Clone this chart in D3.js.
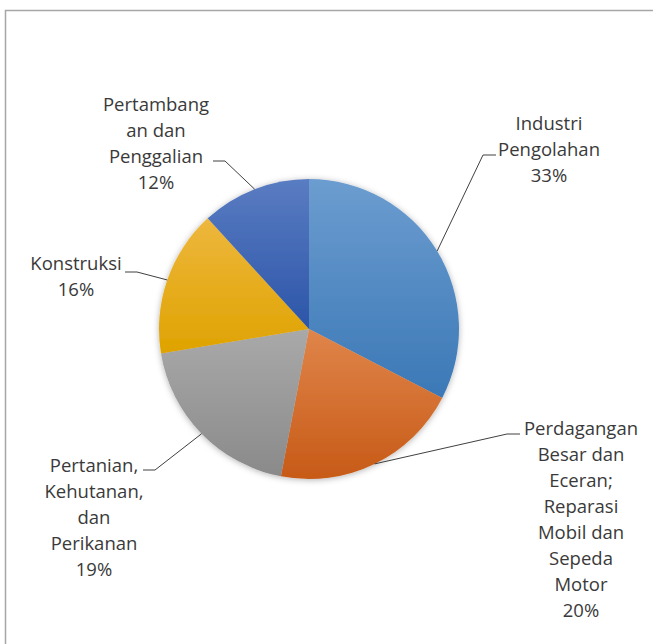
<!DOCTYPE html>
<html>
<head>
<meta charset="utf-8">
<script src="https://cdn.jsdelivr.net/npm/d3@7"></script>
<style>
  body { margin: 0; background: #fff; }
  text { font-family: "Open Sans", Lato, sans-serif; fill: #3a3a3a; }
</style>
</head>
<body>
<div id="chart"></div>
<script>
(function() {
    var width = 653,
        height = 644;

    // data
    var sectors = ["Industri Pengolahan", "Perdagangan Besar dan Eceran; Reparasi Mobil dan Sepeda Motor",
        "Pertanian, Kehutanan, dan Perikanan", "Konstruksi", "Pertambangan dan Penggalian"];
    var shares = [32.6, 20.4, 19.4, 15.8, 11.8];
    // label lines as wrapped in the original
    var labelLines = [
        ["Industri", "Pengolahan"],
        ["Perdagangan", "Besar dan", "Eceran;", "Reparasi", "Mobil dan", "Sepeda", "Motor"],
        ["Pertanian,", "Kehutanan,", "dan", "Perikanan"],
        ["Konstruksi"],
        ["Pertambang", "an dan", "Penggalian"]
    ];

    // colours: [top, bottom] of each slice gradient
    var colors = [
        ["#6c9dd0", "#3b78b6"],
        ["#e0854a", "#c75a17"],
        ["#a9a9a9", "#8a8a8a"],
        ["#eeb73e", "#dfa300"],
        ["#5a7cc2", "#2c55a8"]
    ];

    // label layout: text centre x, first line y, leader attach point, side of elbow
    var labelLayout = [
        { x: 549, y: 130, ax: 496, ay: 155, dir: -1 },
        { x: 581, y: 435, ax: 520, ay: 434, dir: -1 },
        { x: 94, y: 472, ax: 143, ay: 470, dir: 1 },
        { x: 76, y: 270, ax: 125, ay: 272, dir: 1 },
        { x: 156, y: 111, ax: 213, ay: 161, dir: 1 }
    ];

    var cx = 309, cy = 329, radius = 150;
    var lineH = 26;

    var svg = d3.select("#chart")
        .append("svg")
        .attr("width", width)
        .attr("height", height);

    // chart border (runs off the right / bottom of the picture)
    svg.append("rect")
        .attr("x", 5.5)
        .attr("y", 10.5)
        .attr("width", 800)
        .attr("height", 800)
        .style("fill", "none")
        .style("stroke", "#a6a6a6")
        .style("stroke-width", 1.5);

    var defs = svg.append("defs");

    var shadow = defs.append("filter")
        .attr("id", "shadow")
        .attr("x", "-20%").attr("y", "-20%")
        .attr("width", "140%").attr("height", "140%");
    shadow.append("feDropShadow")
        .attr("dx", 0).attr("dy", 1)
        .attr("stdDeviation", 3)
        .attr("flood-color", "#000")
        .attr("flood-opacity", 0.3);

    colors.forEach(function(c, i) {
        var g = defs.append("linearGradient")
            .attr("id", "grad" + i)
            .attr("x1", 0).attr("y1", 0)
            .attr("x2", 0).attr("y2", 1);
        g.append("stop").attr("offset", "0%").attr("stop-color", c[0]);
        g.append("stop").attr("offset", "100%").attr("stop-color", c[1]);
    });

    var pie = d3.pie().sort(null).value(function(d) { return d; });
    var arcs = pie(shares);

    var arc = d3.arc().innerRadius(0).outerRadius(radius);

    var g = svg.append("g")
        .attr("transform", "translate(" + cx + "," + cy + ")");

    g.append("g")
        .attr("filter", "url(#shadow)")
        .selectAll("path")
        .data(arcs)
        .enter()
        .append("path")
        .attr("d", arc)
        .style("fill", function(d, i) { return "url(#grad" + i + ")"; });

    // leader lines: slice edge at mid angle -> elbow -> label
    arcs.forEach(function(d, i) {
        var mid = (d.startAngle + d.endAngle) / 2;
        var px = cx + radius * Math.sin(mid),
            py = cy - radius * Math.cos(mid);
        var L = labelLayout[i];
        var ex = L.ax + (L.dir === -1 ? -13 : 12);
        svg.append("polyline")
            .attr("points", [[px, py], [ex, L.ay], [L.ax, L.ay]].map(function(p) { return p.join(","); }).join(" "))
            .style("fill", "none")
            .style("stroke", "#404040")
            .style("stroke-width", 1);
    });

    // labels
    arcs.forEach(function(d, i) {
        var L = labelLayout[i];
        var lines = labelLines[i].concat([Math.round(shares[i]) + "%"]);
        var t = svg.append("text")
            .attr("x", L.x)
            .attr("y", L.y)
            .style("font-size", "18.5px")
            .style("text-anchor", "middle");
        lines.forEach(function(s, j) {
            t.append("tspan")
                .attr("x", L.x)
                .attr("dy", j === 0 ? 0 : lineH)
                .text(s);
        });
    });
})();
</script>
</body>
</html>
